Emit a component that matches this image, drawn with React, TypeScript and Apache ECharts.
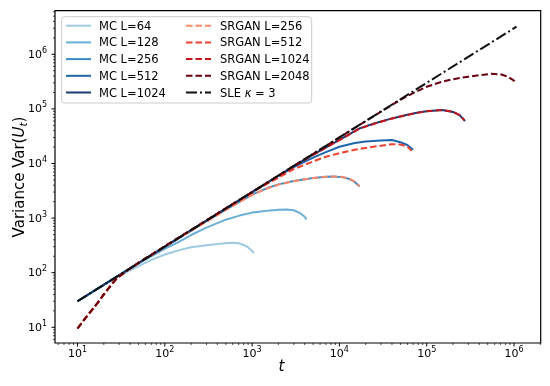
import React, { useEffect, useRef } from 'react';
import * as echarts from 'echarts';

// ---- data (t, Var(U_t)) ----
const MC64_T = [10, 15, 20, 30, 40, 50, 70, 100, 150, 200, 300, 400, 500, 600, 700, 800, 900, 1000, 1050];
const MC64_V = [30, 45, 60, 87, 110, 132, 172, 215, 262, 293, 318, 335, 345, 352, 345, 322, 290, 250, 228];

const MC128_T = [10, 20, 30, 50, 70, 100, 150, 200, 300, 500, 700, 1000, 1500, 2000, 2500, 3000, 3500, 4000, 4200];
const MC128_V = [30, 60, 90, 148, 200, 272, 380, 490, 670, 935, 1100, 1260, 1370, 1420, 1440, 1390, 1250, 1060, 950];

const MC256_T = [10, 30, 100, 200, 300, 500, 700, 1000, 1500, 2000, 3000, 5000, 7000, 9000, 11000, 13000, 15000, 17000];
const MC256_V = [30, 90, 298, 590, 875, 1430, 1950, 2700, 3550, 4150, 4800, 5400, 5700, 5750, 5600, 5200, 4600, 3800];

const MC512_T = [10, 100, 1000, 2000, 3000, 5000, 7000, 10000, 15000, 20000, 30000, 40000, 50000, 60000, 70000];
const MC512_V = [30, 300, 2990, 5900, 8600, 12800, 16200, 20300, 23800, 25400, 26500, 26900, 24600, 21800, 17800];

const MC1024_T = [10, 100, 1000, 3000, 5000, 10000, 17000, 25000, 40000, 60000, 80000, 100000, 150000, 200000, 240000, 275000];
const MC1024_V = [30, 300, 3000, 8950, 14500, 27000, 44000, 54000, 67000, 78000, 86000, 91000, 95500, 88000, 76000, 60000];

const SR256_T = [10, 12, 14, 17, 20, 24, 28, 35, 50, 70, 100, 200, 300, 500, 700, 1000, 1500, 2000, 3000, 5000, 7000, 9000, 11000, 13000, 15000, 17000];
const SR256_V = [9.5, 14, 19, 28, 40, 58, 78, 103, 152, 212, 305, 585, 860, 1410, 1920, 2650, 3500, 4100, 4750, 5400, 5720, 5780, 5650, 5250, 4650, 3850];

const SR512_T = [10, 12, 14, 17, 20, 24, 28, 35, 50, 70, 100, 300, 1000, 1500, 2000, 3000, 5000, 7000, 10000, 15000, 20000, 30000, 40000, 50000, 60000, 67000];
const SR512_V = [9.5, 14, 19, 28, 40, 58, 78, 103, 152, 212, 305, 900, 2950, 4300, 5500, 7900, 10900, 13300, 15500, 17800, 19300, 21200, 22600, 22300, 20500, 17000];

const SR1024_T = [10, 12, 14, 17, 20, 24, 28, 35, 50, 70, 100, 1000, 3000, 5000, 10000, 17000, 25000, 40000, 60000, 80000, 100000, 150000, 200000, 240000, 270000];
const SR1024_V = [9.5, 14, 19, 28, 40, 58, 78, 103, 152, 212, 305, 3000, 8900, 14400, 26800, 43500, 53500, 66500, 77500, 85500, 90500, 95000, 88500, 77000, 62000];

const SR2048_T = [10, 12, 14, 17, 20, 24, 28, 35, 50, 70, 100, 1000, 10000, 30000, 50000, 70000, 100000, 150000, 200000, 300000, 400000, 550000, 700000, 850000, 1000000, 1070000];
const SR2048_V = [9.5, 14, 19, 28, 40, 58, 78, 103, 152, 212, 305, 3000, 30000, 89000, 147000, 195000, 255000, 315000, 350000, 390000, 415000, 440000, 430000, 390000, 330000, 295000];

const SLE_T = [10, 1070000];
const SLE_V = [30, 3210000];

const X_DECADES = [1, 2, 3, 4, 5, 6];
const Y_DECADES = [1, 2, 3, 4, 5, 6];

// axis extents (log10 space)
const X_RANGE = [0.742, 6.306];
const Y_RANGE = [0.712, 6.799];

const FONT = 'DejaVu Sans';

const pairs = (t: number[], v: number[]) => t.map((x, i) => [Math.log10(x), Math.log10(v[i])]);

const minorTicks = (range: number[], decades: number[]) => {
  const out: number[][] = [];
  const all = [decades[0] - 1, ...decades];
  for (const d of all) {
    for (let k = 1; k <= 9; k++) {
      const lv = d + Math.log10(k);
      if (lv >= range[0] && lv <= range[1]) out.push([lv, k === 1 ? 1 : 0]);
    }
  }
  return out;
};

const labelFmt = (v: number) => {
  const r = Math.round(v);
  if (Math.abs(v - r) > 1e-6) return '';
  return '{b|10}{s|' + r + '}';
};

const labelRich = {
  b: { fontSize: 11, fontFamily: FONT, color: '#000', verticalAlign: 'middle', lineHeight: 12 },
  s: { fontSize: 8, fontFamily: FONT, color: '#000', verticalAlign: 'middle', lineHeight: 8, padding: [0, 0, 8, 0] },
};

export default function App() {
  const ref = useRef<HTMLDivElement>(null);
  useEffect(() => {
    if (!ref.current) return;
    const chart = echarts.init(ref.current, null, { renderer: 'svg' });

    const mk = (name: string, t: number[], v: number[], color: string, type: any) => ({
      type: 'line',
      name,
      data: pairs(t, v),
      symbol: 'none',
      showSymbol: false,
      silent: true,
      lineStyle: { color, width: 2, type },
      itemStyle: { color },
    });
    const dash = [6.5, 3];
    const series: any[] = [
      mk('MC L=64', MC64_T, MC64_V, '#9ecae1', 'solid'),
      mk('MC L=128', MC128_T, MC128_V, '#6baed6', 'solid'),
      mk('MC L=256', MC256_T, MC256_V, '#3d8dc4', 'solid'),
      mk('MC L=512', MC512_T, MC512_V, '#1f65ab', 'solid'),
      mk('MC L=1024', MC1024_T, MC1024_V, '#173a74', 'solid'),
      mk('SRGAN L=256', SR256_T, SR256_V, '#fc8a6a', dash),
      mk('SRGAN L=512', SR512_T, SR512_V, '#f0402f', dash),
      mk('SRGAN L=1024', SR1024_T, SR1024_V, '#c5161c', dash),
      mk('SRGAN L=2048', SR2048_T, SR2048_V, '#67000d', dash),
      mk('SLE κ = 3', SLE_T, SLE_V, '#111111', [11, 3, 2, 3]),
    ];

    const xt = minorTicks(X_RANGE, X_DECADES);
    const yt = minorTicks(Y_RANGE, Y_DECADES);
    series.push({
      type: 'custom',
      silent: true,
      clip: false,
      z: 10,
      data: xt.map((d) => [d[0], Y_RANGE[0], d[1]]),
      renderItem: (_p: any, api: any) => {
        const p = api.coord([api.value(0), api.value(1)]);
        const major = api.value(2) === 1;
        const len = major ? 3.5 : 2;
        return {
          type: 'line',
          shape: { x1: p[0], y1: p[1], x2: p[0], y2: p[1] + len },
          style: { stroke: '#000', lineWidth: major ? 1 : 0.7 },
        };
      },
    });
    series.push({
      type: 'custom',
      silent: true,
      clip: false,
      z: 10,
      data: yt.map((d) => [X_RANGE[0], d[0], d[1]]),
      renderItem: (_p: any, api: any) => {
        const p = api.coord([api.value(0), api.value(1)]);
        const major = api.value(2) === 1;
        const len = major ? 3.5 : 2;
        return {
          type: 'line',
          shape: { x1: p[0] - len, y1: p[1], x2: p[0], y2: p[1] },
          style: { stroke: '#000', lineWidth: major ? 1 : 0.7 },
        };
      },
    });

    const legendText = {
      fontSize: 11.5,
      fontFamily: FONT,
      color: '#000',
      lineHeight: 14,
      rich: { k: { fontSize: 11.5, fontFamily: FONT, fontStyle: 'italic', color: '#000' } },
    };
    const legendBase = {
      orient: 'vertical',
      top: 18.7,
      padding: 0,
      itemWidth: 25,
      itemHeight: 14,
      itemGap: 2.7,
      selectedMode: false,
      itemStyle: { opacity: 0 },
    };

    chart.setOption({
      animation: false,
      textStyle: { fontFamily: FONT },
      grid: {
        left: 55,
        top: 10.7,
        width: 485.7,
        height: 332.3,
        show: true,
        borderColor: '#000',
        borderWidth: 1.2,
        containLabel: false,
        outerBoundsMode: 'none',
      },
      xAxis: {
        type: 'value',
        min: X_RANGE[0],
        max: X_RANGE[1],
        axisLine: { show: false },
        axisTick: { show: false },
        splitLine: { show: false },
        axisLabel: { formatter: labelFmt, rich: labelRich, margin: 4, showMinLabel: false, showMaxLabel: false },
      },
      yAxis: {
        type: 'value',
        min: Y_RANGE[0],
        max: Y_RANGE[1],
        axisLine: { show: false },
        axisTick: { show: false },
        splitLine: { show: false },
        axisLabel: { formatter: labelFmt, rich: labelRich, margin: 8, showMinLabel: false, showMaxLabel: false },
      },
      legend: [
        {
          ...legendBase,
          left: 65,
          data: ['MC L=64', 'MC L=128', 'MC L=256', 'MC L=512', 'MC L=1024'],
          textStyle: { ...legendText, padding: [0, 0, 0, 3] },
        },
        {
          ...legendBase,
          left: 185,
          data: ['SRGAN L=256', 'SRGAN L=512', 'SRGAN L=1024', 'SRGAN L=2048', 'SLE κ = 3'],
          formatter: (name: string) => (name.indexOf('SLE') === 0 ? 'SLE {k|κ} = 3' : name),
          textStyle: { ...legendText, padding: [0, 0, 0, 4] },
        },
      ],
      graphic: [
        {
          type: 'rect',
          z: 3,
          shape: { x: 61.7, y: 16.7, width: 250, height: 86.3, r: 3 },
          style: { fill: 'rgba(255,255,255,0.8)', stroke: '#cccccc', lineWidth: 1 },
        },
        {
          type: 'text',
          x: 19,
          y: 177,
          rotation: Math.PI / 2,
          style: {
            text: '{n|Variance Var(}{i|U}{sub|t}{n|)}',
            align: 'center',
            verticalAlign: 'middle',
            fill: '#000',
            rich: {
              n: { fontSize: 15, fontFamily: FONT, fill: '#000' },
              i: { fontSize: 15, fontFamily: FONT, fontStyle: 'italic', fill: '#000' },
              sub: { fontSize: 10.5, fontFamily: FONT, fontStyle: 'italic', fill: '#000', padding: [7, 0, 0, 0] },
            },
          },
        },
        {
          type: 'text',
          x: 281.5,
          y: 365.5,
          style: {
            text: 't',
            fontSize: 15,
            fontFamily: FONT,
            fontStyle: 'italic',
            fill: '#000',
            align: 'center',
            verticalAlign: 'middle',
          },
        },
      ],
      series,
    });
    return () => chart.dispose();
  }, []);
  return <div ref={ref} style={{ position: 'fixed', left: 0, top: 0, width: 550, height: 386 }} />;
}
